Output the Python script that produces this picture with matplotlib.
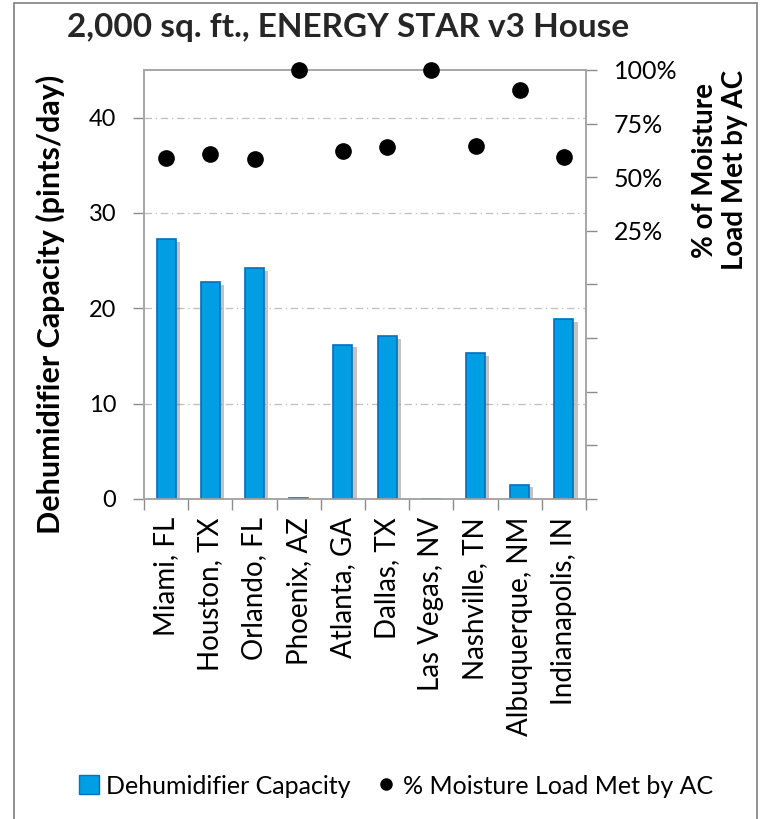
import matplotlib
matplotlib.use("Agg")
import matplotlib.pyplot as plt
import matplotlib.patheffects as pe
from matplotlib.patches import Rectangle
from matplotlib.lines import Line2D
from matplotlib.ticker import FixedLocator, FuncFormatter
import numpy as np

plt.rcParams['font.family'] = ['Lato', 'DejaVu Sans']

cities = ["Miami, FL", "Houston, TX", "Orlando, FL", "Phoenix, AZ", "Atlanta, GA",
          "Dallas, TX", "Las Vegas, NV", "Nashville, TN", "Albuquerque, NM", "Indianapolis, IN"]
dehum_capacity = [27.3, 22.75, 24.2, 0.1, 16.2, 17.1, 0.0, 15.3, 1.5, 18.85]
moisture_met_pct = [58.8, 61.0, 58.4, 100.0, 62.4, 64.2, 100.0, 64.7, 90.5, 59.3]

left_ticks = [0, 10, 20, 30, 40]
right_ticks = [-100, -75, -50, -25, 0, 25, 50, 75, 100]
right_labeled = [25, 50, 75, 100]

W, H = 761, 819
fig = plt.figure(figsize=(W / 100, H / 100), dpi=100)
fig.patch.set_facecolor('white')

# outer border
fig.add_artist(Rectangle((14 / W, -0.01), (757 - 14) / W, 1.01 - 3 / H, transform=fig.transFigure,
                         fill=False, edgecolor='#7f7f7f', linewidth=1.2))

ax = fig.add_axes([144 / W, 1 - 499 / H, (586 - 144) / W, (499 - 70) / H])
x = np.arange(len(cities))
bars = ax.bar(x, dehum_capacity, width=0.43, color='#009FE3', edgecolor='#0070C0', linewidth=1.2,
              zorder=3)
for b in bars:
    b.set_path_effects([pe.SimplePatchShadow(offset=(3, -2), shadow_rgbFace='#555555', alpha=0.35),
                        pe.Normal()])
ax.set_xlim(-0.5, len(cities) - 0.5)
ax.set_ylim(0, 45)
ax.yaxis.set_major_locator(FixedLocator(left_ticks))
ax.set_yticklabels([str(t) for t in left_ticks], fontsize=17)
for t in [10, 20, 30, 40]:
    ax.axhline(t, color='#bfbfbf', linestyle=(0, (6, 3, 1, 3)), linewidth=0.9, zorder=1)

ax.set_xticks(np.arange(len(cities) + 1) - 0.5)
ax.set_xticklabels([])
ax.set_xticks(x, minor=True)
ax.set_xticklabels(cities, minor=True, rotation=90, fontsize=20, va='top', ha='center')
ax.tick_params(axis='x', which='minor', length=0, pad=13)
ax.tick_params(axis='x', which='major', length=8, color='#8c8c8c', width=1)
ax.tick_params(axis='y', length=8, color='#8c8c8c', width=1, pad=12)
for s in ['left', 'bottom', 'top', 'right']:
    ax.spines[s].set_color('#a6a6a6')
    ax.spines[s].set_linewidth(1.2)

fig.text(50 / W, 1 - 304 / H, "Dehumidifier Capacity (pints/day)", rotation=90, fontsize=22,
         fontweight='bold', ha='center', va='center')

ax2 = ax.twinx()
ax2.set_ylim(-100, 100)
ax2.yaxis.set_major_locator(FixedLocator(right_ticks))
ax2.yaxis.set_major_formatter(FuncFormatter(lambda v, p: f"{int(v)}%" if int(v) in right_labeled else ""))
ax2.tick_params(axis='y', length=8, color='#8c8c8c', width=1, labelsize=18, pad=12)
for s in ['left', 'bottom', 'top', 'right']:
    ax2.spines[s].set_color('#a6a6a6')
    ax2.spines[s].set_linewidth(1.2)
ax2.plot(x, moisture_met_pct, linestyle='none', marker='o', markersize=11, color='black',
         clip_on=False, zorder=5)

fig.text(720 / W, 1 - 170 / H, "% of Moisture\nLoad Met by AC", rotation=90, fontsize=20,
         fontweight='bold', ha='center', va='center', linespacing=1.2)

fig.text(348 / W, 1 - 28 / H, "2,000 sq. ft., ENERGY STAR v3 House", fontsize=24,
         fontweight='bold', ha='center', va='center', color='#262626')

handles = [Rectangle((0, 0), 1, 1, facecolor='#009FE3', edgecolor='#0070C0'),
           Line2D([], [], linestyle='none', marker='o', color='black', markersize=8)]
fig.legend(handles, ["Dehumidifier Capacity", "% Moisture Load Met by AC"], loc='center',
           bbox_to_anchor=(396 / W, 1 - 786 / H), ncol=2, frameon=False, fontsize=18,
           handlelength=0.8, handleheight=0.8, handletextpad=0.3, columnspacing=1.0)

fig.savefig("out.png", dpi=100)
